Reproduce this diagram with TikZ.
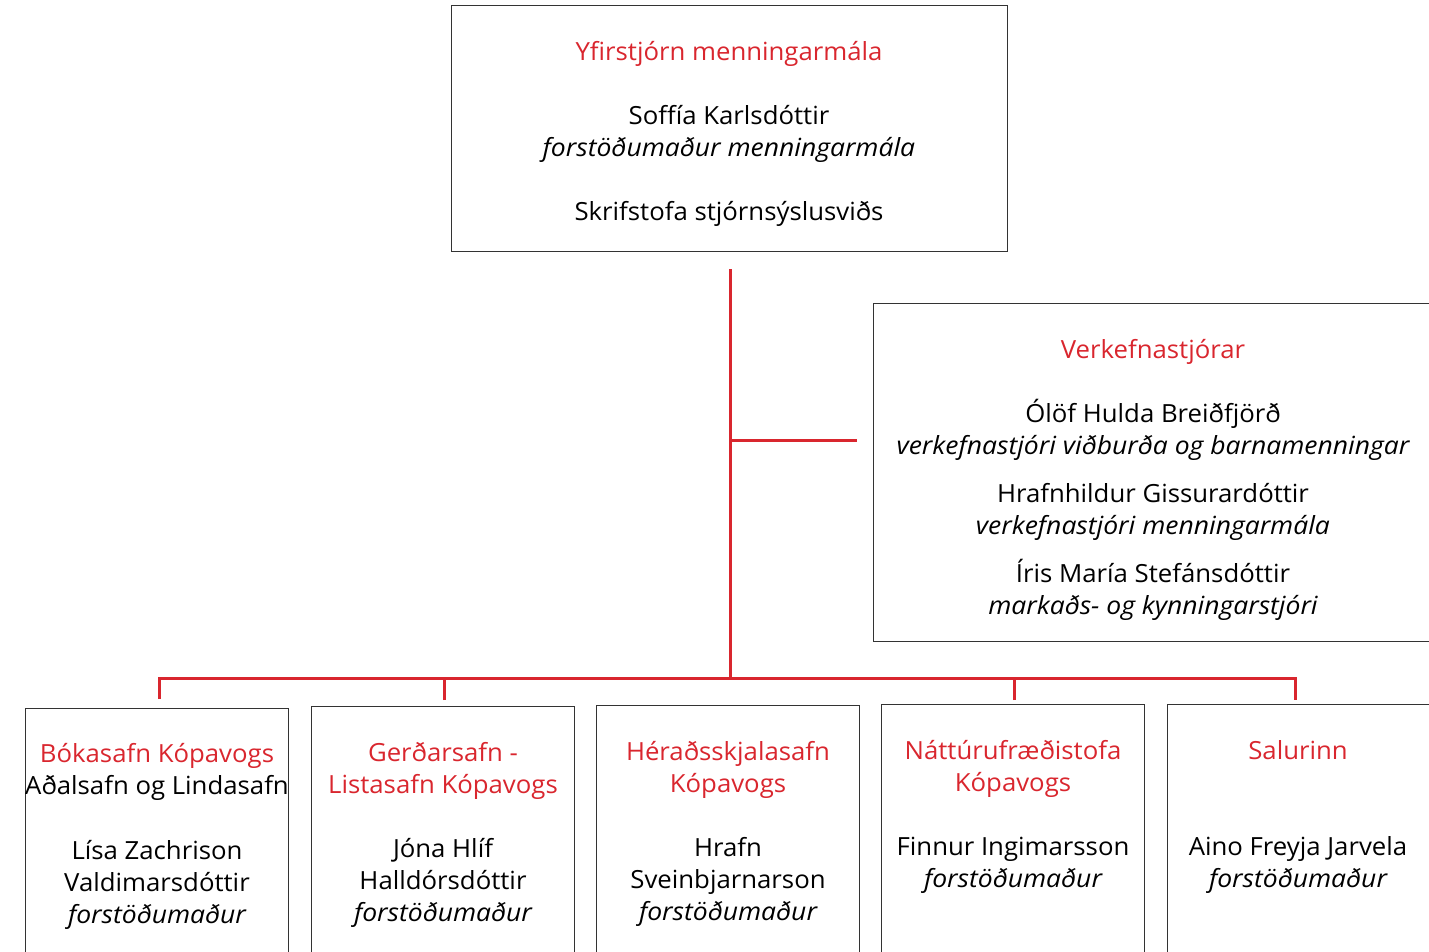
\documentclass[tikz,border=0pt]{standalone}
\usepackage{fontspec}
\setmainfont{Open Sans}[FakeStretch=1.03, ItalicFeatures={FakeStretch=1.06}]
\definecolor{kred}{HTML}{D9262E}
\definecolor{kgray}{HTML}{333333}
\begin{document}
\begin{tikzpicture}[x=1pt,y=-1pt,
  box/.style n args={2}{draw=kgray, line width=1.3pt, rectangle, anchor=north west,
    inner sep=0pt, minimum width=#1, minimum height=#2},
  conn/.style={draw=kred, line width=3pt},
  txt/.style={anchor=base, inner sep=0pt, text=black, font=\fontsize{25}{28}\selectfont},
  rtxt/.style={txt, text=kred},
  itxt/.style={txt, font=\fontsize{25}{28}\selectfont\itshape}]
\useasboundingbox (0,0) rectangle (1429,951);
\clip (0,0) rectangle (1429,951);
% boxes
\node[box={556pt}{246pt}] (top) at (451,5) {};
\node[box={620pt}{338pt}] (verk) at (873,303) {};
\node[box={263pt}{300pt}] (b1) at (25,708) {};
\node[box={263pt}{300pt}] (b2) at (311,706) {};
\node[box={263pt}{300pt}] (b3) at (596,705) {};
\node[box={263pt}{300pt}] (b4) at (881,704) {};
\node[box={300pt}{300pt}] (b5) at (1167,704) {};
% connectors
\coordinate (t0) at (730,269);
\coordinate (j) at (730,440);
\coordinate (v) at (857,440);
\coordinate (t1) at (730,678);
\coordinate (bl) at (159,678);
\coordinate (br) at (1295,678);
\coordinate (d1) at (159,699);
\coordinate (d2) at (444,700);
\coordinate (d4) at (1014,700);
\coordinate (d5) at (1295,700);
\draw[conn] (t0) -- (t1);
\draw[conn] (j) -- (v);
\draw[conn] (d1) -- (bl) -- (br) -- (d5);
\draw[conn] (d2) -- (d2 |- bl);
\draw[conn] (d4) -- (d4 |- bl);
% top box text
\node[rtxt] (tt) at (729,60) {Yfirstjórn menningarmála};
\node[txt] (tn) at (729,124) {Soffía Karlsdóttir};
\node[itxt] (tr) at (729,156) {forstöðumaður menningarmála};
\node[txt] (ts) at (729,220) {Skrifstofa stjórnsýslusviðs};
% verkefnastjorar
\node[rtxt] (vt) at (1153,358) {Verkefnastjórar};
\node[txt] (v1) at (1153,422) {Ólöf Hulda Breiðfjörð};
\node[itxt] (v1r) at (1153,454) {verkefnastjóri viðburða og barnamenningar};
\node[txt] (v2) at (1153,502) {Hrafnhildur Gissurardóttir};
\node[itxt] (v2r) at (1153,534) {verkefnastjóri menningarmála};
\node[txt] (v3) at (1153,582) {Íris María Stefánsdóttir};
\node[itxt] (v3r) at (1153,614) {markaðs- og kynningarstjóri};
% box 1
\node[rtxt] (a1) at (157,762) {Bókasafn Kópavogs};
\node[txt] (a2) at (157,794) {Aðalsafn og Lindasafn};
\node[txt] (a3) at (157,859) {Lísa Zachrison};
\node[txt] (a4) at (157,891) {Valdimarsdóttir};
\node[itxt] (a5) at (157,923) {forstöðumaður};
% box 2
\node[rtxt] (g1) at (443,761) {Gerðarsafn -};
\node[rtxt] (g2) at (443,793) {Listasafn Kópavogs};
\node[txt] (g3) at (443,857) {Jóna Hlíf};
\node[txt] (g4) at (443,889) {Halldórsdóttir};
\node[itxt] (g5) at (443,921) {forstöðumaður};
% box 3
\node[rtxt] (h1) at (728,760) {Héraðsskjalasafn};
\node[rtxt] (h2) at (728,792) {Kópavogs};
\node[txt] (h3) at (728,856) {Hrafn};
\node[txt] (h4) at (728,888) {Sveinbjarnarson};
\node[itxt] (h5) at (728,920) {forstöðumaður};
% box 4
\node[rtxt] (n1) at (1013,759) {Náttúrufræðistofa};
\node[rtxt] (n2) at (1013,791) {Kópavogs};
\node[txt] (n3) at (1013,855) {Finnur Ingimarsson};
\node[itxt] (n4) at (1013,887) {forstöðumaður};
% box 5
\node[rtxt] (s1) at (1298,759) {Salurinn};
\node[txt] (s2) at (1298,855) {Aino Freyja Jarvela};
\node[itxt] (s3) at (1298,887) {forstöðumaður};
\end{tikzpicture}
\end{document}
